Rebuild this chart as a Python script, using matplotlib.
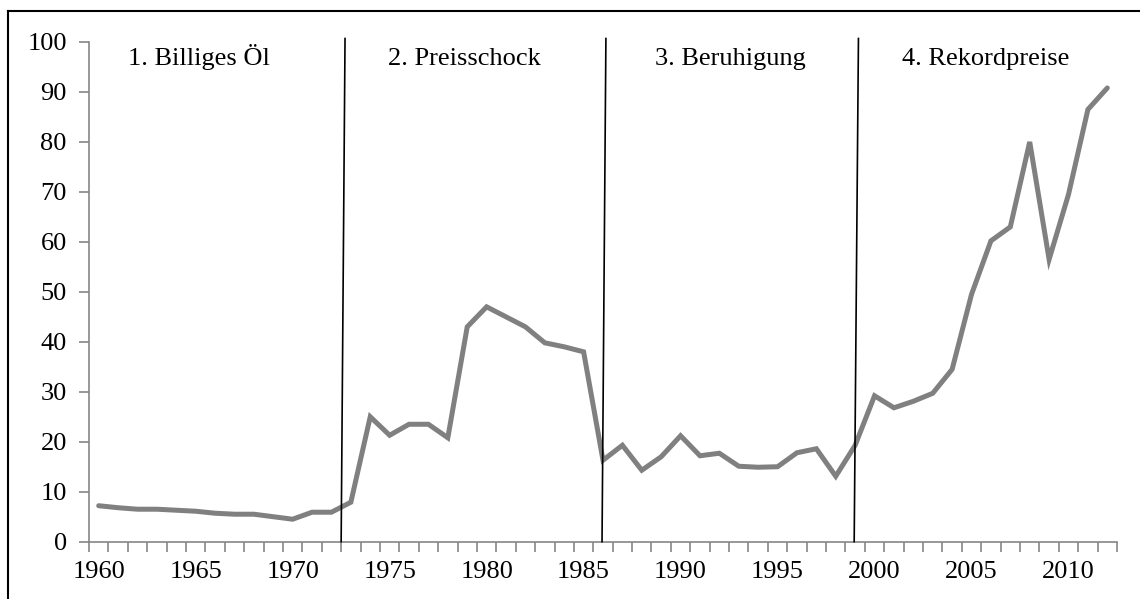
import numpy as np
import matplotlib
matplotlib.use('Agg')
import matplotlib.pyplot as plt
from matplotlib.lines import Line2D

plt.rcParams['font.family'] = ['Liberation Serif', 'DejaVu Serif']

# Ölpreis pro Barrel (USD), 1960-2012
years = list(range(1960, 2013))
prices = [7.2, 6.8, 6.5, 6.5, 6.3, 6.1, 5.7, 5.5, 5.5, 5.0,
          4.5, 5.9, 5.9, 7.9, 25.0, 21.3, 23.5, 23.5, 20.8, 43.0,
          47.0, 45.0, 43.0, 39.8, 39.0, 38.0, 16.3, 19.3, 14.3, 17.0,
          21.2, 17.2, 17.7, 15.1, 14.9, 15.0, 17.8, 18.6, 13.1, 19.3,
          29.2, 26.8, 28.1, 29.7, 34.5, 49.5, 60.2, 63.0, 80.0, 56.5,
          69.5, 86.5, 90.8]

phase_labels = ['1. Billiges Öl', '2. Preisschock', '3. Beruhigung', '4. Rekordpreise']
phase_label_x = [1961.5, 1974.9, 1988.7, 2001.4]
# Trennlinien (leicht schräg wie im Original): (x unten, x oben)
dividers = [(1972.5, 1972.7), (1985.95, 1986.15), (1998.95, 1999.17)]

fig = plt.figure(figsize=(11.4, 5.99), dpi=100)
ax = fig.add_axes([89 / 1140, 57.3 / 599, 1028 / 1140, 499.7 / 599])

ax.plot(years, prices, color='#808080', lw=3.6, solid_joinstyle='miter',
        solid_capstyle='round', zorder=3)

ax.set_xlim(1959.5, 2012.5)
ax.set_ylim(0, 100)

gray = '#868686'
for s in ['top', 'right']:
    ax.spines[s].set_visible(False)
for s in ['left', 'bottom']:
    ax.spines[s].set_color(gray)
    ax.spines[s].set_linewidth(1.2)

ax.set_yticks(np.arange(0, 101, 10))
ax.set_xticks(range(1960, 2011, 5))
ax.set_xticks(np.arange(1959.5, 2013, 1), minor=True)
ax.tick_params(axis='y', direction='out', length=7, width=1.2, color=gray,
               labelsize=19, pad=9)
ax.tick_params(axis='x', which='major', length=0, labelsize=19, pad=14)
ax.tick_params(axis='x', which='minor', direction='out', length=7, width=1.2, color=gray)

for xb, xt in dividers:
    ax.plot([xb, xt], [0, 100.7], color='black', lw=1.2, clip_on=False, zorder=4)

for lbl, x in zip(phase_labels, phase_label_x):
    ax.text(x, 95.3, lbl, fontsize=19, ha='left', va='baseline')

# Rahmen um das Diagramm
fig.add_artist(Line2D([8 / 1140, 8 / 1140], [0, 1 - 11 / 599], color='black', lw=1.5,
                      transform=fig.transFigure))
fig.add_artist(Line2D([8 / 1140, 1], [1 - 11 / 599, 1 - 11 / 599], color='black', lw=1.5,
                      transform=fig.transFigure))

fig.savefig('out.png', dpi=100)
